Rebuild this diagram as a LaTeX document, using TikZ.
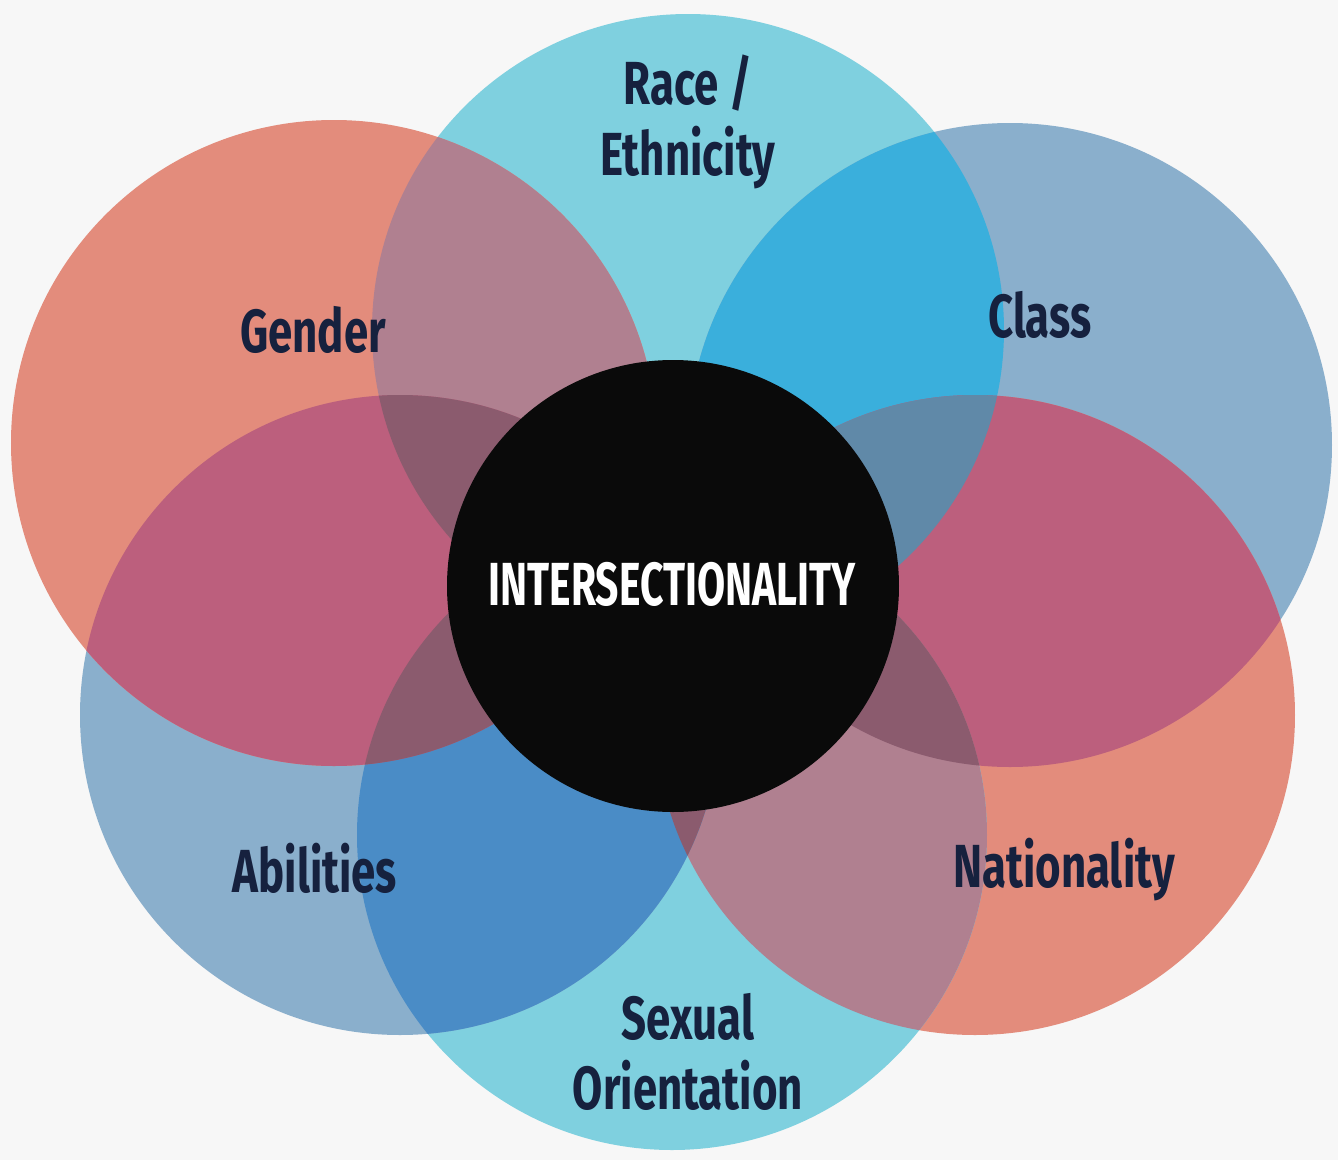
\documentclass[tikz,border=0pt]{standalone}
\usepackage{fontspec}
\newfontfamily\labelfont[FakeStretch=0.72]{Fira Sans}
\newfontfamily\hubfont[FakeStretch=0.67]{Fira Sans}

\definecolor{paper}{HTML}{F7F7F7}
\definecolor{aqua}{HTML}{7FD0DF}
\definecolor{salmon}{HTML}{E38C7C}
\definecolor{steel}{HTML}{8AAFCC}
\definecolor{mauve}{HTML}{B08090}
\definecolor{sky}{HTML}{3AAFDC}
\definecolor{denim}{HTML}{4A8CC6}
\definecolor{rose}{HTML}{BC5F7D}
\definecolor{plum}{HTML}{8B5B6E}
\definecolor{slate}{HTML}{6089A8}
\definecolor{ink}{HTML}{16213E}

% the six outer discs, in pixel units
\newcommand{\racecirc}{(688,330) circle (316)}
\newcommand{\classcirc}{(1010,445) circle (322)}
\newcommand{\natcirc}{(975,715) circle (320)}
\newcommand{\sexcirc}{(672,835) circle (315)}
\newcommand{\ablcirc}{(400,715) circle (320)}
\newcommand{\gendercirc}{(334,443) circle (323)}

\tikzset{
  lbl/.style={text=ink, align=center, font=\labelfont\bfseries\fontsize{17.3}{20}\selectfont},
}

\begin{document}
\begin{tikzpicture}[x=0.01cm, y=-0.01cm]
\fill[paper] (0,0) rectangle (1338,1160);

% plain discs
\fill[aqua] \racecirc;
\fill[steel] \classcirc;
\fill[salmon] \natcirc;
\fill[aqua] \sexcirc;
\fill[steel] \ablcirc;
\fill[salmon] \gendercirc;

% neighbours
\begin{scope} \clip \gendercirc; \fill[mauve] \racecirc; \end{scope}
\begin{scope} \clip \racecirc; \fill[sky] \classcirc; \end{scope}
\begin{scope} \clip \classcirc; \fill[rose] \natcirc; \end{scope}
\begin{scope} \clip \natcirc; \fill[mauve] \sexcirc; \end{scope}
\begin{scope} \clip \sexcirc; \fill[denim] \ablcirc; \end{scope}
\begin{scope} \clip \ablcirc; \fill[rose] \gendercirc; \end{scope}

% deeper overlaps round the middle
\begin{scope} \clip \ablcirc; \fill[plum] \racecirc; \end{scope}
\begin{scope} \clip \natcirc; \fill[slate] \racecirc; \end{scope}
\begin{scope} \clip \gendercirc; \fill[plum] \sexcirc; \end{scope}
\begin{scope} \clip \classcirc; \fill[plum] \sexcirc; \end{scope}
\begin{scope} \clip \ablcirc; \fill[plum] \natcirc; \end{scope}

% hub
\fill[black!96] (673,586) circle (226);
\node[text=white, font=\hubfont\bfseries\fontsize{17.3}{20}\selectfont] (hub) at (672,584) {INTERSECTIONALITY};

\node[lbl] (race) at (688,122) {Race /\\Ethnicity};
\node[lbl] (gender) at (313,330) {Gender};
\node[lbl] (class) at (1040,315) {Class};
\node[lbl] (abilities) at (315,868) {Abilities};
\node[lbl] (nationality) at (1064,870) {Nationality};
\node[lbl] (sexual) at (688,1052) {Sexual\\Orientation};
\end{tikzpicture}
\end{document}
